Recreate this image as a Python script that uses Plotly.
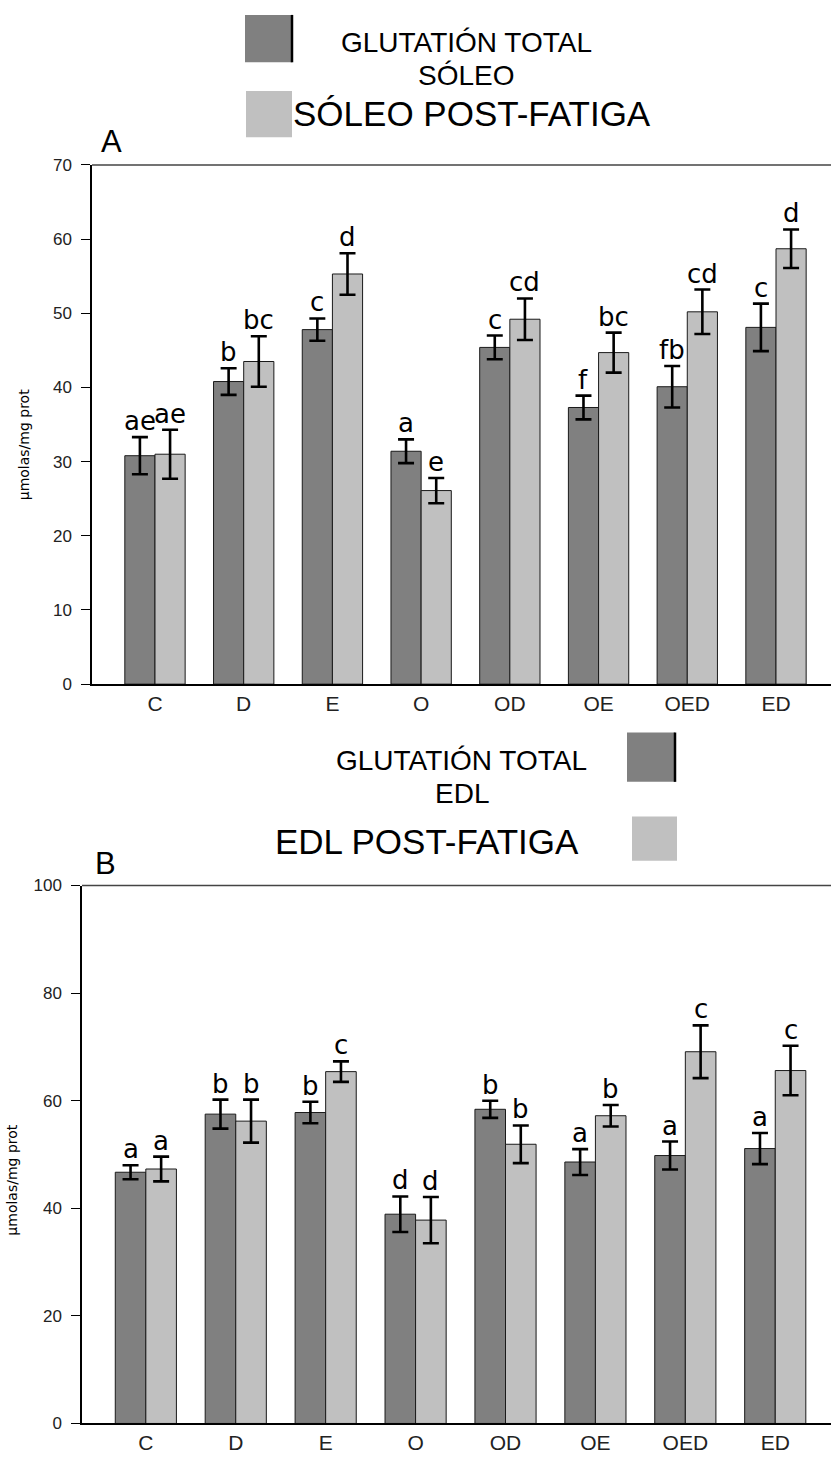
import plotly.graph_objects as go

categories = ["C", "D", "E", "O", "OD", "OE", "OED", "ED"]

# Panel A - Sóleo
soleo_total = [30.8, 40.8, 47.8, 31.4, 45.4, 37.3, 40.1, 48.1]
soleo_total_err = [2.5, 1.8, 1.5, 1.6, 1.6, 1.6, 2.8, 3.2]
soleo_post = [31.0, 43.5, 55.3, 26.1, 49.2, 44.7, 50.2, 58.7]
soleo_post_err = [3.3, 3.4, 2.8, 1.7, 2.8, 2.7, 3.0, 2.6]
soleo_total_letters = ["ae", "b", "c", "a", "c", "f", "fb", "c"]
soleo_post_letters = ["ae", "bc", "d", "e", "cd", "bc", "cd", "d"]

# Panel B - EDL
edl_total = [46.7, 57.5, 57.8, 38.9, 58.4, 48.6, 49.8, 51.1]
edl_total_err = [1.3, 2.7, 2.0, 3.3, 1.6, 2.4, 2.6, 2.9]
edl_post = [47.3, 56.2, 65.4, 37.8, 51.9, 57.2, 69.1, 65.6]
edl_post_err = [2.3, 4.0, 1.9, 4.3, 3.5, 2.0, 4.9, 4.6]
edl_total_letters = ["a", "b", "b", "d", "b", "a", "a", "a"]
edl_post_letters = ["a", "b", "c", "d", "b", "b", "c", "c"]

DARK = "#808080"
LIGHT = "#c0c0c0"
W, H = 831, 1468
BARGAP = 0.32
half = (1 - BARGAP) / 4  # offset of each bar centre from category centre

idx = list(range(len(categories)))

fig = go.Figure()

def add_panel(total, terr, post, perr, xa, ya, name_t, name_p):
    fig.add_trace(go.Bar(
        x=idx, y=total, name=name_t, xaxis=xa, yaxis=ya,
        marker=dict(color=DARK, line=dict(color="#1a1a1a", width=1)),
        error_y=dict(type="data", array=terr, color="black", thickness=2.6, width=8),
        offsetgroup="t", showlegend=False))
    fig.add_trace(go.Bar(
        x=idx, y=post, name=name_p, xaxis=xa, yaxis=ya,
        marker=dict(color=LIGHT, line=dict(color="#1a1a1a", width=1)),
        error_y=dict(type="data", array=perr, color="black", thickness=2.6, width=8),
        offsetgroup="p", showlegend=False))

add_panel(soleo_total, soleo_total_err, soleo_post, soleo_post_err, "x", "y",
          "GLUTATIÓN TOTAL SÓLEO", "SÓLEO POST-FATIGA")
add_panel(edl_total, edl_total_err, edl_post, edl_post_err, "x2", "y2",
          "GLUTATIÓN TOTAL EDL", "EDL POST-FATIGA")

annotations = []
def letters(vals, errs, labs, xref, yref, shift):
    for i, (v, e, t) in enumerate(zip(vals, errs, labs)):
        annotations.append(dict(
            x=i + shift, y=v + e, xref=xref, yref=yref, text=t,
            showarrow=False, yanchor="bottom", xanchor="center",
            font=dict(family="DejaVu Sans", size=26, color="black"), yshift=-1))

letters(soleo_total, soleo_total_err, soleo_total_letters, "x", "y", -half)
letters(soleo_post, soleo_post_err, soleo_post_letters, "x", "y", half)
letters(edl_total, edl_total_err, edl_total_letters, "x2", "y2", -half)
letters(edl_post, edl_post_err, edl_post_letters, "x2", "y2", half)

def px(xp):
    return xp / W

def py(yp):
    return 1 - yp / H

def txt(x, y, s, size, xanchor="center", yanchor="middle", family="Liberation Sans", angle=0):
    annotations.append(dict(
        x=px(x), y=py(y), xref="paper", yref="paper", text=s, showarrow=False,
        xanchor=xanchor, yanchor=yanchor, textangle=angle, borderpad=0,
        font=dict(family=family, size=size, color="black")))

# legend A
txt(466, 51, "GLUTATIÓN TOTAL", 28, yanchor="bottom")
txt(466, 51, "SÓLEO", 28, yanchor="top")
txt(292, 106, "SÓLEO POST-FATIGA", 35, xanchor="left")
# legend B
txt(461, 778, "GLUTATIÓN TOTAL", 28, yanchor="bottom")
txt(462, 778, "EDL", 28, yanchor="top")
txt(427, 843, "EDL POST-FATIGA", 35)
# panel letters
txt(111, 134, "A", 31)
txt(105, 866, "B", 31)
# y titles
txt(24, 442, "µmolas/mg prot", 14, family="DejaVu Sans", angle=-90)
txt(12, 1187, "µmolas/mg prot", 14, family="DejaVu Sans", angle=-90)

shapes = []
def rect(x0, y0, x1, y1, color):
    shapes.append(dict(type="rect", xref="paper", yref="paper",
                       x0=px(x0), x1=px(x1), y0=py(y1), y1=py(y0),
                       fillcolor=color, line=dict(width=0)))

def vline(x, y0, y1, width=2):
    shapes.append(dict(type="line", xref="paper", yref="paper",
                       x0=px(x), x1=px(x), y0=py(y0), y1=py(y1),
                       line=dict(color="black", width=width)))

rect(245, 6, 292, 54, DARK); vline(292, 6, 54, 2.5)
rect(246, 83, 292, 130, LIGHT)
rect(627, 733, 675, 783, DARK); vline(675, 733, 783, 2.5)
rect(632, 818, 677, 863, LIGHT)

# top frame lines
for xr, yr in (("x domain", "y domain"), ("x2 domain", "y2 domain")):
    shapes.append(dict(type="line", xref=xr, yref=yr, x0=0, x1=1, y0=1, y1=1,
                       line=dict(color="#444", width=1.5)))

tickfont_x = dict(family="Liberation Sans", size=21, color="#222")
tickfont_y = dict(family="Liberation Sans", size=17, color="#222")

xcommon = dict(tickmode="array", tickvals=idx, ticktext=categories,
               range=[-0.71, 7.62], showline=True, linecolor="black", linewidth=1.5,
               ticks="", tickfont=tickfont_x, showgrid=False, zeroline=False, fixedrange=True)
ycommon = dict(showline=True, linecolor="black", linewidth=1.5, ticks="outside",
               ticklen=9, tickcolor="black", tickwidth=1, tickfont=tickfont_y,
               ticklabelstandoff=6, showgrid=False, zeroline=False)

fig.update_layout(
    width=W, height=H, margin=dict(l=0, r=0, t=0, b=0),
    paper_bgcolor="white", plot_bgcolor="white",
    barmode="group", bargap=BARGAP, bargroupgap=0,
    showlegend=False,
    xaxis=dict(domain=[px(92), 1.0], anchor="y", **xcommon),
    yaxis=dict(domain=[py(684), py(158)], anchor="x", range=[0, 70], dtick=10, **ycommon),
    xaxis2=dict(domain=[px(82), 1.0], anchor="y2", **xcommon),
    yaxis2=dict(domain=[py(1433), py(888)], anchor="x2", range=[0, 100], dtick=20, **ycommon),
    annotations=annotations, shapes=shapes,
)

fig.write_html("out.html")
